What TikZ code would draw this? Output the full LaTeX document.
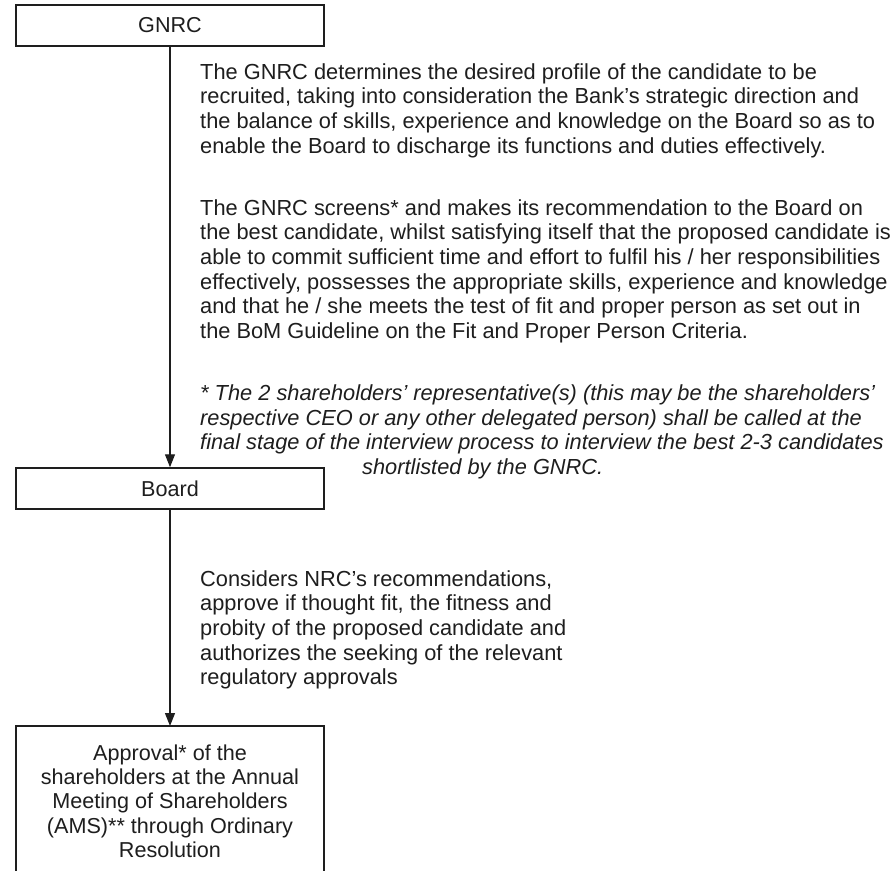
\documentclass[tikz,border=0pt]{standalone}
\usepackage{fontspec}
\setmainfont{Liberation Sans}
\usetikzlibrary{arrows.meta}
\definecolor{ink}{RGB}{30,30,30}
\begin{document}
\begin{tikzpicture}[x=1pt,y=-1pt,
  every node/.style={text=ink, inner sep=0pt},
  boxnode/.style={draw=ink, line width=1.5pt, minimum width=308pt, minimum height=41pt,
     font=\fontsize{21.6}{24.5}\selectfont},
  frame/.style={draw=ink, line width=1.5pt},
  arr/.style={draw=ink, line width=1.3pt, -{Triangle[length=13pt,width=10pt]}},
  para/.style={anchor=north west, align=left, font=\fontsize{21.8}{24.6}\selectfont},
  ipara/.style={para, font=\fontsize{21.8}{24.5}\selectfont\itshape}]
\useasboundingbox (0,0) rectangle (896,870);
\fill[white] (0,0) rectangle (896,870);
% boxes
\node[boxnode] (gnrc) at (170,25.5) {GNRC};
\node[boxnode] (board) at (170,488.5) {Board};
\coordinate (apptop) at (170,726);
\draw[frame] (16,875) |- (apptop) -| (324,875);
\node[anchor=north, align=center, font=\fontsize{21.6}{24.3}\selectfont] (approval) at (170,{760-0.7*24.3})
 {\strut Approval* of the\\ shareholders at the Annual\\ Meeting of Shareholders\\ (AMS)** through Ordinary\\ Resolution};
% connectors
\draw[arr] (gnrc.south) -- (board.north);
\draw[arr] (board.south) -- (apptop);
% text blocks
\node[para] (p1) at (200,{79-0.7*24.6})
 {\strut The GNRC determines the desired profile of the candidate to be\\
  recruited, taking into consideration the Bank’s strategic direction and\\
  the balance of skills, experience and knowledge on the Board so as to\\
  enable the Board to discharge its functions and duties effectively.};
\node[para] (p2) at (200,{215-0.7*24.6})
 {\strut The GNRC screens* and makes its recommendation to the Board on\\
  the best candidate, whilst satisfying itself that the proposed candidate is\\
  able to commit sufficient time and effort to fulfil his / her responsibilities\\
  effectively, possesses the appropriate skills, experience and knowledge\\
  and that he / she meets the test of fit and proper person as set out in\\
  the BoM Guideline on the Fit and Proper Person Criteria.};
\node[ipara] (p3) at (200,{400.5-0.7*24.5})
 {\strut * The 2 shareholders’ representative(s) (this may be the shareholders’\\
  respective CEO or any other delegated person) shall be called at the\\
  final stage of the interview process to interview the best 2-3 candidates};
\node[ipara, anchor=base west] (p3b) at (362,474) {shortlisted by the GNRC.};
\node[para] (p4) at (200,{586-0.7*24.5})
 {\strut Considers NRC’s recommendations,\\
  approve if thought fit, the fitness and\\
  probity of the proposed candidate and\\
  authorizes the seeking of the relevant\\
  regulatory approvals};
\end{tikzpicture}
\end{document}
